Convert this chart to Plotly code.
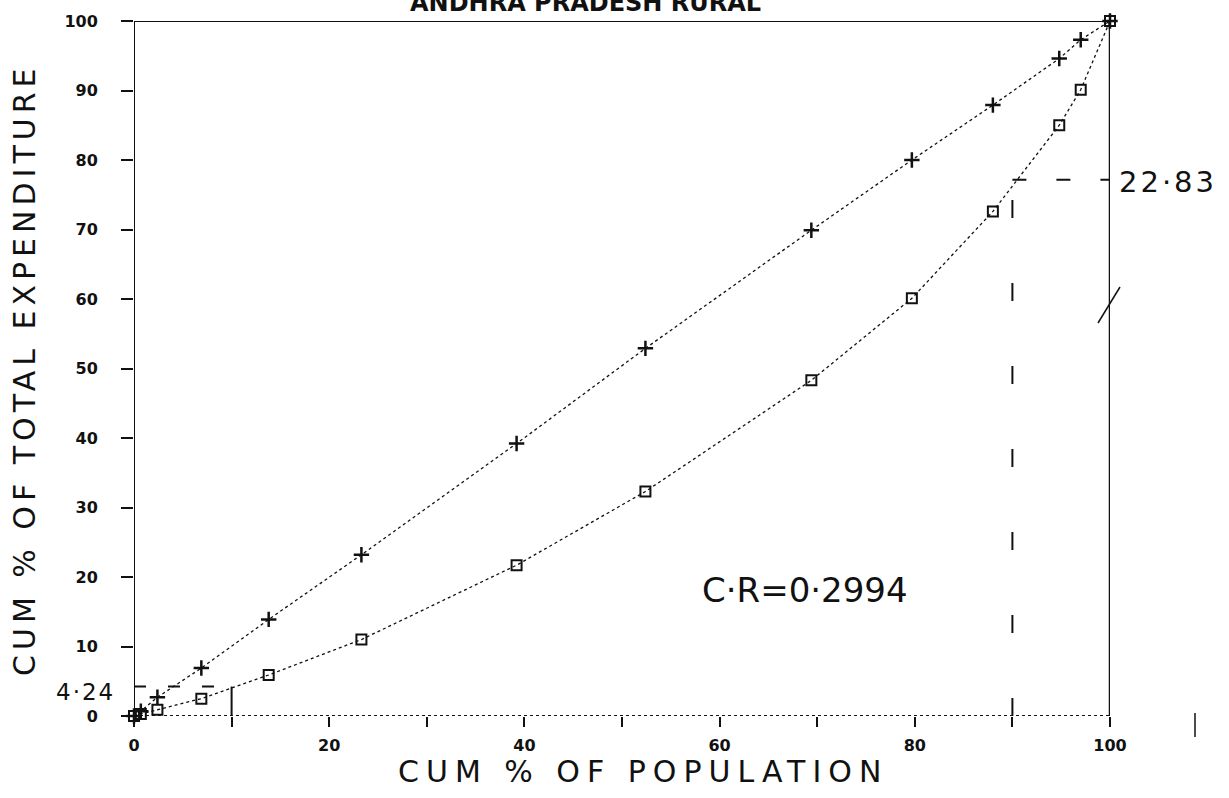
import plotly.graph_objects as go

# ---- data ----
pop_cum = [0, 0.7, 2.4, 6.9, 13.8, 23.3, 39.2, 52.4, 69.4, 79.7, 88.0, 94.8, 97.0, 100]
equality_cum = [0, 0.7, 2.7, 6.9, 13.9, 23.2, 39.2, 52.9, 69.9, 80.0, 87.9, 94.6, 97.3, 100]
expenditure_cum = [0, 0.3, 0.9, 2.5, 5.9, 11.0, 21.7, 32.3, 48.3, 60.1, 72.6, 85.0, 90.1, 100]
x_ticks = [0, 20, 40, 60, 80, 100]
x_minor = [10, 30, 50, 70, 90]
y_ticks = [0, 10, 20, 30, 40, 50, 60, 70, 80, 90, 100]
bottom_pop, bottom_share = 10, 4.24
top_pop, top_share = 90, 22.83
cr_text = "C·R=0·2994"

W, H = 1229, 798
L, R, T, B = 134, 1110, 21, 716
PW, PH = R - L, B - T


def px(p):
    return (p - L) / PW


def py(p):
    return (B - p) / PH


def spaced(text, gap):
    return f'<span style="letter-spacing:{gap}px">{text}</span>'


HAND = "DejaVu Sans"
INK = "#111111"

fig = go.Figure()
fig.add_trace(go.Scatter(
    x=pop_cum, y=equality_cum, mode="lines+markers",
    line=dict(color=INK, width=1.3, dash="dot"),
    marker=dict(symbol="cross-thin", size=11, line=dict(width=2.5, color=INK)),
    showlegend=False, cliponaxis=False))
fig.add_trace(go.Scatter(
    x=pop_cum, y=expenditure_cum, mode="lines+markers",
    line=dict(color=INK, width=1.3, dash="dot"),
    marker=dict(symbol="square-open", size=10, color=INK, line=dict(width=2, color=INK)),
    showlegend=False, cliponaxis=False))

shapes = []
# frame
shapes.append(dict(type="line", xref="x", yref="y", x0=0, x1=0, y0=0, y1=100,
                   line=dict(color=INK, width=2)))
shapes.append(dict(type="line", xref="x", yref="y", x0=0, x1=100, y0=100, y1=100,
                   line=dict(color=INK, width=2)))
shapes.append(dict(type="line", xref="x", yref="y", x0=100, x1=100, y0=0, y1=100,
                   line=dict(color=INK, width=2.5)))
shapes.append(dict(type="line", xref="x", yref="y", x0=0, x1=100, y0=0, y1=0,
                   line=dict(color=INK, width=2, dash="dot")))
# bottom 10% guide
shapes.append(dict(type="line", xref="x", yref="y", x0=0, x1=bottom_pop, y0=bottom_share, y1=bottom_share,
                   line=dict(color=INK, width=2, dash="12px,22px")))
shapes.append(dict(type="line", xref="x", yref="y", x0=bottom_pop, x1=bottom_pop, y0=0, y1=bottom_share,
                   line=dict(color=INK, width=2)))
# top 10% guide
shapes.append(dict(type="line", xref="x", yref="y", x0=top_pop, x1=100, y0=100 - top_share, y1=100 - top_share,
                   line=dict(color=INK, width=2, dash="14px,30px")))
shapes.append(dict(type="line", xref="x", yref="y", x0=top_pop, x1=top_pop, y0=0, y1=100 - top_share,
                   line=dict(color=INK, width=2, dash="18px,65px")))
# stray pen marks
shapes.append(dict(type="line", xref="paper", yref="paper", x0=px(1098), x1=px(1120), y0=py(323), y1=py(287),
                   line=dict(color=INK, width=1.5)))
shapes.append(dict(type="line", xref="paper", yref="paper", x0=px(1195), x1=px(1195), y0=py(713), y1=py(737),
                   line=dict(color=INK, width=1.5)))

annotations = [
    dict(text="ANDHRA PRADESH RURAL", xref="paper", yref="paper", x=px(585), y=py(3),
         xanchor="center", yanchor="middle", showarrow=False,
         font=dict(family=HAND, size=24, color=INK, weight="bold")),
    dict(text=spaced("CUM % OF TOTAL EXPENDITURE", 5), xref="paper", yref="paper", x=px(24), y=py(370),
         xanchor="center", yanchor="middle", textangle=-90, showarrow=False,
         font=dict(family=HAND, size=30, color=INK)),
    dict(text=spaced("CUM % OF POPULATION", 7), xref="paper", yref="paper", x=px(643), y=py(771),
         xanchor="center", yanchor="middle", showarrow=False,
         font=dict(family=HAND, size=30, color=INK)),
    dict(text=cr_text, xref="paper", yref="paper", x=px(805), y=py(590),
         xanchor="center", yanchor="middle", showarrow=False,
         font=dict(family=HAND, size=34, color=INK)),
    dict(text=spaced("22·83", 3), xref="paper", yref="paper", x=px(1117), y=py(182),
         xanchor="left", yanchor="middle", showarrow=False,
         font=dict(family=HAND, size=29, color=INK)),
    dict(text=spaced("4·24", 2), xref="paper", yref="paper", x=px(85), y=py(692),
         xanchor="center", yanchor="middle", showarrow=False,
         font=dict(family=HAND, size=23, color=INK)),
]

fig.update_layout(
    width=W, height=H,
    margin=dict(l=L, r=W - R, t=T, b=H - B, pad=0),
    paper_bgcolor="white", plot_bgcolor="white",
    shapes=shapes, annotations=annotations,
    xaxis=dict(range=[0, 100], tickvals=x_ticks, ticktext=[str(v) for v in x_ticks],
               ticks="outside", ticklen=10, tickwidth=2, tickcolor=INK,
               minor=dict(tickvals=x_minor, ticks="outside", ticklen=10, tickwidth=2, tickcolor=INK),
               showgrid=False, zeroline=False, showline=False, ticklabelstandoff=5,
               tickfont=dict(family=HAND, size=16, color=INK, weight="bold")),
    yaxis=dict(range=[0, 100], tickvals=y_ticks, ticktext=[str(v) for v in y_ticks],
               ticks="outside", ticklen=12, tickwidth=2, tickcolor=INK,
               showgrid=False, zeroline=False, showline=False, ticklabelstandoff=20,
               tickfont=dict(family=HAND, size=16, color=INK, weight="bold")),
)

fig.write_html("out.html")
